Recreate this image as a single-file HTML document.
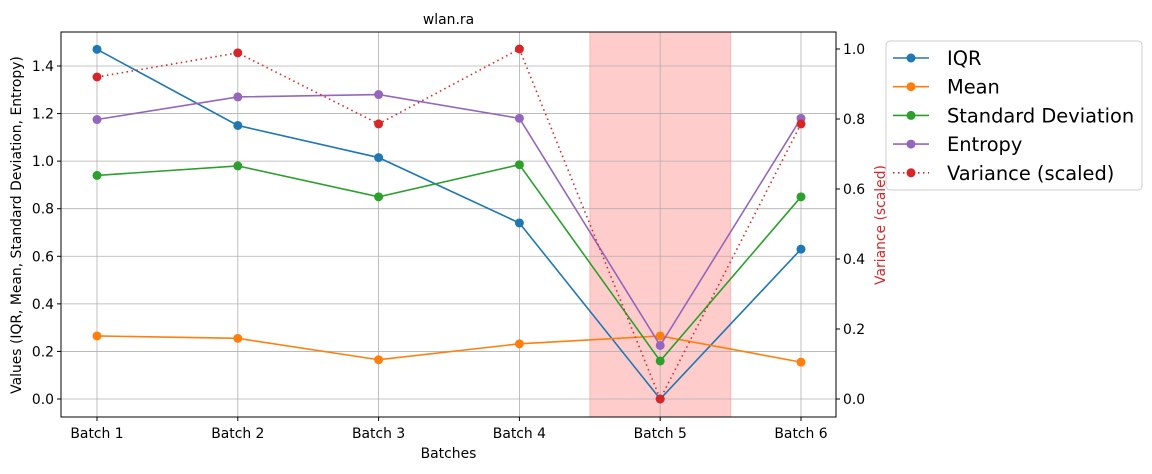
<!DOCTYPE html>
<html><head><meta charset="utf-8"><style>
body{margin:0;background:#fff;font-family:"DejaVu Sans",sans-serif;}
</style></head><body>
<svg id="chart" width="1152" height="470" xmlns="http://www.w3.org/2000/svg" font-family="DejaVu Sans, sans-serif">
<g id="grid"></g>
<g id="marks"></g>
<g id="axes"></g>
<g id="legend"></g>
</svg>
<script>
const categories=["Batch 1","Batch 2","Batch 3","Batch 4","Batch 5","Batch 6"];
const iqr=[1.47,1.15,1.015,0.74,0.0,0.63];
const mean=[0.265,0.255,0.165,0.232,0.265,0.155];
const stdDev=[0.94,0.98,0.85,0.985,0.16,0.85];
const entropy=[1.175,1.27,1.28,1.18,0.225,1.18];
const varianceScaled=[0.92,0.989,0.786,1.0,0.0,0.786];
const leftTicks=[0.0,0.2,0.4,0.6,0.8,1.0,1.2,1.4];
const rightTicks=[0.0,0.2,0.4,0.6,0.8,1.0];
const highlightIndex=4;

const NS="http://www.w3.org/2000/svg";
const L=61,R=836,T=32,B=417;
const FS=13.9;
const x=i=>97+i*140.8;
const yL=v=>399-v*237.86;
const yR=v=>399-v*350;
function mk(tag,attrs,parent,text){const e=document.createElementNS(NS,tag);for(const k in attrs)e.setAttribute(k,attrs[k]);if(text!==undefined)e.textContent=text;document.getElementById(parent).appendChild(e);return e;}

let hl=mk('rect',{x:x(highlightIndex)-70.4,y:T,width:140.8,height:B-T,fill:'#ff0000','fill-opacity':0.2,stroke:'#ff0000','stroke-opacity':0.2},'grid');


categories.forEach((c,i)=>{let g=mk('line',{x1:x(i),x2:x(i),y1:T,y2:B,stroke:'#b0b0b0','stroke-width':0.8},'grid');

});
leftTicks.forEach(v=>{let g=mk('line',{x1:L,x2:R,y1:yL(v),y2:yL(v),stroke:'#b0b0b0','stroke-width':0.8},'grid');

});

const series=[
 {name:'IQR',data:iqr,color:'#1f77b4',scale:yL,dash:null},
 {name:'Mean',data:mean,color:'#ff7f0e',scale:yL,dash:null},
 {name:'Standard Deviation',data:stdDev,color:'#2ca02c',scale:yL,dash:null},
 {name:'Entropy',data:entropy,color:'#9467bd',scale:yL,dash:null},
 {name:'Variance (scaled)',data:varianceScaled,color:'#d62728',scale:yR,dash:'1.5,3.5'}
];
series.forEach(s=>{
 const pts=s.data.map((v,i)=>x(i)+','+s.scale(v)).join(' ');
 const pl=mk('polyline',{points:pts,fill:'none',stroke:s.color,'stroke-width':1.6},'marks');
 if(s.dash)pl.setAttribute('stroke-dasharray',s.dash);
 
 
 s.data.forEach((v,i)=>{const c=mk('circle',{cx:x(i),cy:s.scale(v),r:4.5,fill:s.color},'marks');
 
 });
});

let fr=mk('rect',{x:L,y:T,width:R-L,height:B-T,fill:'none',stroke:'#000','stroke-width':1},'axes');


categories.forEach((c,i)=>{mk('line',{x1:x(i),x2:x(i),y1:B,y2:B+4,stroke:'#000'},'axes');
 let t=mk('text',{x:x(i),y:B+21,'text-anchor':'middle','font-size':FS},'axes',c);
 
 });
leftTicks.forEach(v=>{mk('line',{x1:L-4,x2:L,y1:yL(v),y2:yL(v),stroke:'#000'},'axes');
 let t=mk('text',{x:L-7,y:yL(v)+5,'text-anchor':'end','font-size':FS},'axes',v.toFixed(1));
 
 });
rightTicks.forEach(v=>{mk('line',{x1:R,x2:R+4,y1:yR(v),y2:yR(v),stroke:'#000'},'axes');
 let t=mk('text',{x:R+7,y:yR(v)+5,'font-size':FS},'axes',v.toFixed(1));
 
 });
let ti=mk('text',{x:(L+R)/2,y:24,'text-anchor':'middle','font-size':FS},'axes','wlan.ra');


let xt=mk('text',{x:(L+R)/2,y:458,'text-anchor':'middle','font-size':FS},'axes','Batches');


let yt=mk('text',{x:0,y:0,'text-anchor':'middle','font-size':FS,transform:'translate(21,225) rotate(-90)'},'axes','Values (IQR, Mean, Standard Deviation, Entropy)');


let yt2=mk('text',{x:0,y:0,'text-anchor':'middle','font-size':FS,fill:'#d62728',transform:'translate(885,225) rotate(-90)'},'axes','Variance (scaled)');



let lb=mk('rect',{x:886,y:41,width:256,height:149,rx:4,fill:'#fff',stroke:'#ccc'},'legend');


series.forEach((s,i)=>{const yy=58+i*28.7;
 const ln=mk('line',{x1:893,x2:929,y1:yy,y2:yy,stroke:s.color,'stroke-width':1.6},'legend');
 if(s.dash)ln.setAttribute('stroke-dasharray',s.dash);
 mk('circle',{cx:911,cy:yy,r:4.5,fill:s.color},'legend');
 const t=mk('text',{x:947,y:yy+7,'font-size':19.4},'legend',s.name);
 
 });
</script>
</body></html>
